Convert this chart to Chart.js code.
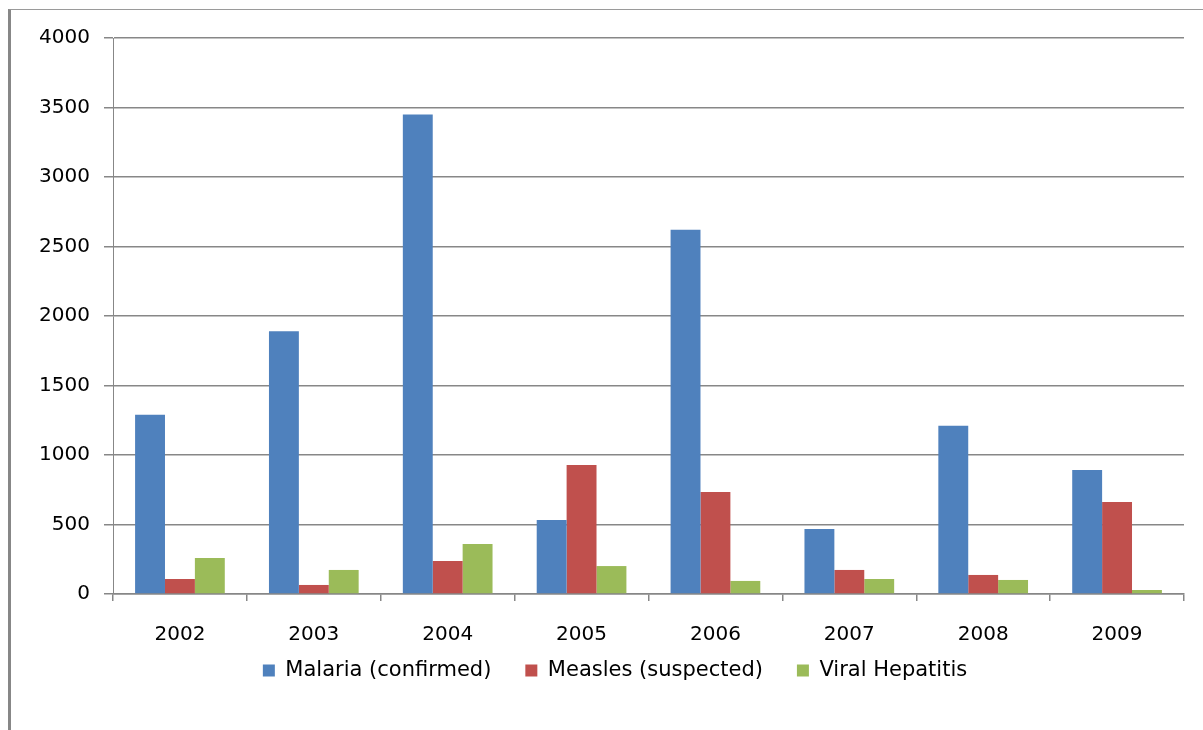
<!DOCTYPE html>
<html>
<head>
<meta charset="utf-8">
<script src="https://cdn.jsdelivr.net/npm/chart.js@4.4.1/dist/chart.umd.min.js"></script>
<style>
    html, body { margin: 0; padding: 0; background: #ffffff; }
    #frame {
        position: absolute; left: 8px; top: 9px; width: 1195px; height: 721px;
        border-left: 3px solid #878787; border-top: 1px solid #9a9a9a;
        box-sizing: border-box;
    }
    #wrap { position: absolute; left: 0; top: 0; width: 1203px; height: 730px; }
</style>
</head>
<body>
<div id="frame"></div>
<div id="wrap"><canvas id="diseaseChart" width="1203" height="730"></canvas></div>
<script>
// Datos
const years = ["2002", "2003", "2004", "2005", "2006", "2007", "2008", "2009"];
const malariaConfirmed = [1290, 1890, 3450, 532, 2620, 468, 1210, 892];
const measlesSuspected = [108, 65, 237, 928, 734, 173, 137, 662];
const viralHepatitis = [259, 173, 360, 201, 94, 108, 101, 29];
const yTicks = [0, 500, 1000, 1500, 2000, 2500, 3000, 3500, 4000];

const seriesNames = ["Malaria (confirmed)", "Measles (suspected)", "Viral Hepatitis"];
const seriesColors = ["#4F81BD", "#C0504D", "#9BBB59"];
const seriesData = [malariaConfirmed, measlesSuspected, viralHepatitis];

const fontFamily = "'DejaVu Sans', Verdana, sans-serif";
const gridColor = "#878787";

// La leyenda usa mucho espacio horizontal entre items; la movemos un poco
const legendShift = {
    id: "legendShift",
    afterLayout(chart) {
        if (chart.legend) {
            chart.legend.top -= 20;
            chart.legend.bottom -= 20;
            chart.legend.left += 23;
            chart.legend.right += 23;
        }
    }
};

const ctx = document.getElementById("diseaseChart").getContext("2d");

new Chart(ctx, {
    type: "bar",
    data: {
        labels: years,
        datasets: seriesNames.map((name, i) => ({
            label: name,
            data: seriesData[i],
            backgroundColor: seriesColors[i],
            borderWidth: 0,
            categoryPercentage: 0.67,
            barPercentage: 1.0
        }))
    },
    options: {
        responsive: false,
        animation: false,
        layout: {
            padding: { left: 0, right: 19, top: 38, bottom: 19 }
        },
        plugins: {
            tooltip: { enabled: false },
            legend: {
                display: true,
                position: "bottom",
                labels: {
                    boxWidth: 12,
                    boxHeight: 12,
                    padding: 34,
                    color: "#000000",
                    font: { family: fontFamily, size: 21 }
                }
            }
        },
        scales: {
            x: {
                offset: true,
                grid: {
                    display: true,
                    drawOnChartArea: false,
                    drawTicks: true,
                    tickLength: 7,
                    color: gridColor,
                    lineWidth: 1.5
                },
                border: { display: true, color: gridColor, width: 1.5 },
                ticks: {
                    color: "#000000",
                    padding: 22,
                    font: { family: fontFamily, size: 20 }
                },
                afterFit: (scale) => { scale.height = 52; }
            },
            y: {
                min: 0,
                max: 4000,
                afterBuildTicks: (scale) => {
                    scale.ticks = yTicks.map(v => ({ value: v }));
                },
                grid: {
                    color: gridColor,
                    lineWidth: 1.5,
                    drawTicks: true,
                    tickLength: 9
                },
                border: { display: true, color: gridColor, width: 1 },
                ticks: {
                    color: "#000000",
                    padding: 14,
                    font: { family: fontFamily, size: 20 },
                    callback: (value) => String(value)
                },
                afterFit: (scale) => { scale.width = 113; }
            }
        }
    },
    plugins: [legendShift]
});
</script>
</body>
</html>
